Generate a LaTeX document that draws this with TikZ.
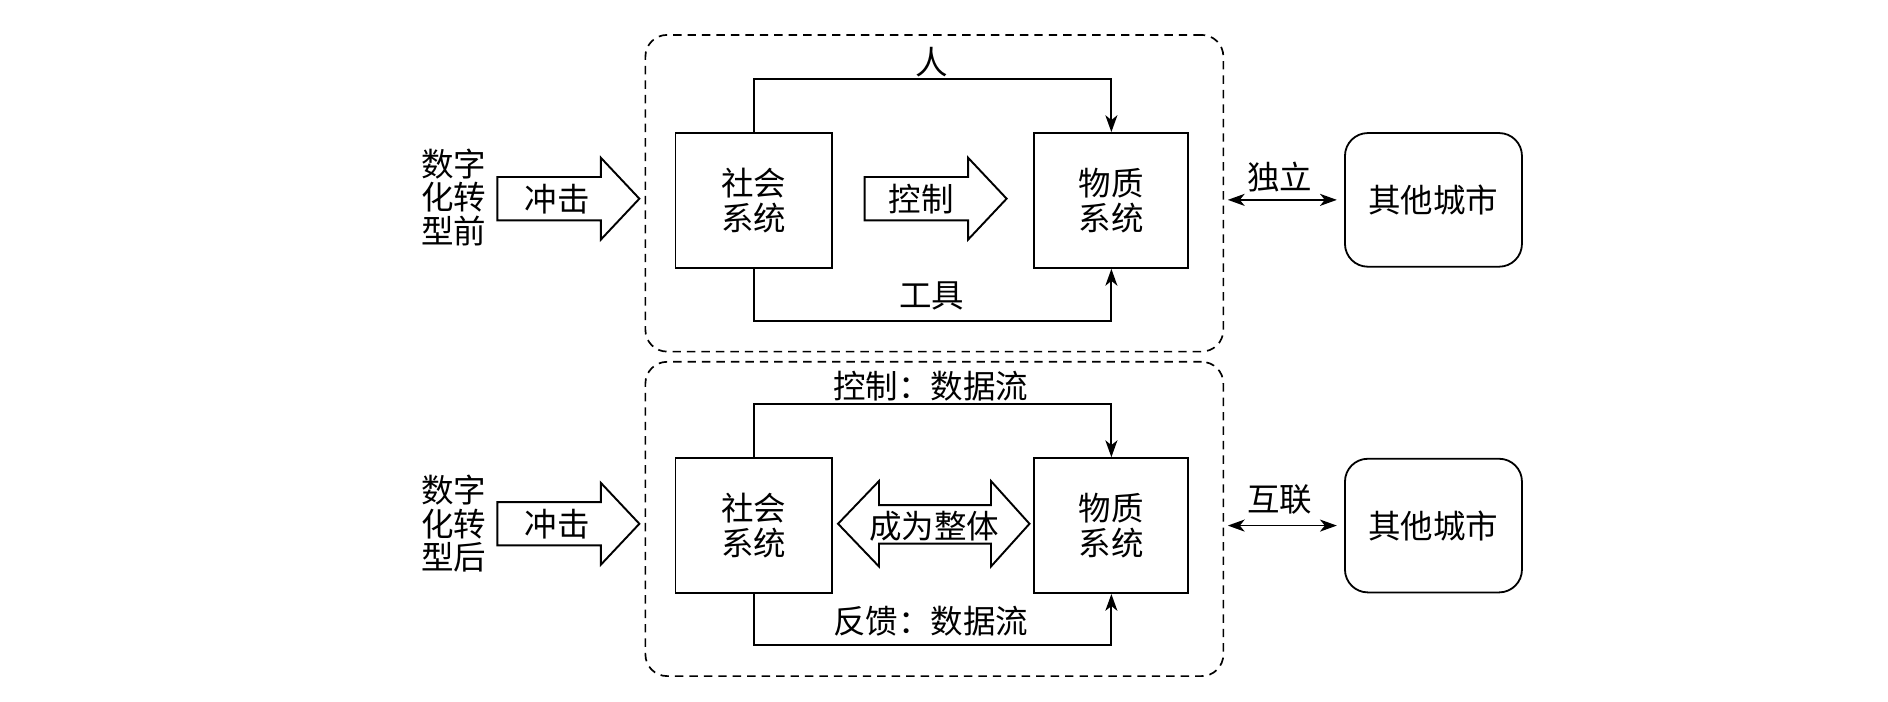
\documentclass[tikz,border=0pt]{standalone}
\usepackage{fontspec}
\setmainfont{Noto Sans CJK SC}
\usetikzlibrary{arrows.meta}
\begin{document}
\begin{tikzpicture}[x=1pt,y=-1pt,
  every node/.style={font=\fontsize{27}{29}\selectfont, inner sep=0pt},
  sysbox/.style={draw, line width=1.6pt, minimum width=130pt, minimum height=112pt, align=center},
  citybox/.style={draw, line width=1.5pt, rounded corners=19pt, minimum width=147pt, minimum height=111pt},
  grpbox/.style={draw, dash pattern=on 7pt off 5pt, line width=1.4pt, rounded corners=18pt, minimum width=480pt, minimum height=262pt},
  tip/.style={Stealth[length=14pt,width=10pt,inset=4pt]},
  conn/.style={line width=1.5pt, -{Stealth[length=14pt,width=10pt,inset=4pt]}},
  biconn/.style={line width=1.5pt, {Stealth[length=14pt,width=10pt,inset=4pt]}-{Stealth[length=14pt,width=10pt,inset=4pt]}, shorten <=3pt, shorten >=6pt},
  blockarrow/.style={draw, line width=1.6pt, fill=white, line join=miter},
  lbl/.style={align=center},
  sidetext/.style={align=center, font=\fontsize{27}{28}\selectfont}
]
\fill[white] (0,0) rectangle (1568,583);
\useasboundingbox (0,0) rectangle (1568,583);

% group boxes
\node[grpbox, minimum height=263pt] (grp1) at (776,160.5) {};
\node[grpbox, minimum height=261pt] (grp2) at (776,431) {};

% top section
\node[sysbox] (soc1) at (626,166.5) {社会\\系统};
\node[sysbox, minimum width=128pt] (mat1) at (923,166.5) {物质\\系统};
\node[citybox] (city1) at (1190.5,166) {其他城市};

\draw[conn] (soc1.north) -- ++(0,-44) -| (mat1.north);
\draw[conn] (soc1.south) -- ++(0,43) -| (mat1.south);
\node[lbl] (ren) at (774,52) {人};
\node[lbl] (gongju) at (774,246) {工具};

\draw[blockarrow] (413,147) -- (499,147) -- (499,131) -- (531,165) -- (499,199) -- (499,183) -- (413,183) -- cycle;
\node[lbl] (impact1) at (463,165) {冲击};
\draw[blockarrow] (718,147) -- (804,147) -- (804,131) -- (836,165) -- (804,199) -- (804,183) -- (718,183) -- cycle;
\node[lbl] (ctrl1) at (765,165) {控制};

\node[sidetext] (before) at (377,164) {数字\\化转\\型前};

\draw[biconn] (grp1.east |- city1.west) -- (city1.west);
\node[lbl] (duli) at (1063,147) {独立};

% bottom section
\node[sysbox] (soc2) at (626,436.5) {社会\\系统};
\node[sysbox, minimum width=128pt] (mat2) at (923,436.5) {物质\\系统};
\node[citybox] (city2) at (1190.5,436.5) {其他城市};

\draw[conn] (soc2.north) -- ++(0,-44) -| (mat2.north);
\draw[conn] (soc2.south) -- ++(0,42.5) -| (mat2.south);
\node[lbl] (ctrlflow) at (773,321) {控制：数据流};
\node[lbl] (fbflow) at (773,516) {反馈：数据流};

\draw[blockarrow] (413,417) -- (499,417) -- (499,401) -- (531,435) -- (499,469) -- (499,453) -- (413,453) -- cycle;
\node[lbl] (impact2) at (463,435) {冲击};

\draw[blockarrow] (696,435) -- (730,399.5) -- (730,419.5) -- (823,419.5) -- (823,399.5) -- (855,435) -- (823,470.5) -- (823,451.5) -- (730,451.5) -- (730,470.5) -- cycle;
\node[lbl] (whole) at (776,437) {成为整体};

\node[sidetext] (after) at (377,435) {数字\\化转\\型后};

\draw[biconn] (grp2.east |- city2.west) -- (city2.west);
\node[lbl] (hulian) at (1063,415) {互联};
\end{tikzpicture}
\end{document}
